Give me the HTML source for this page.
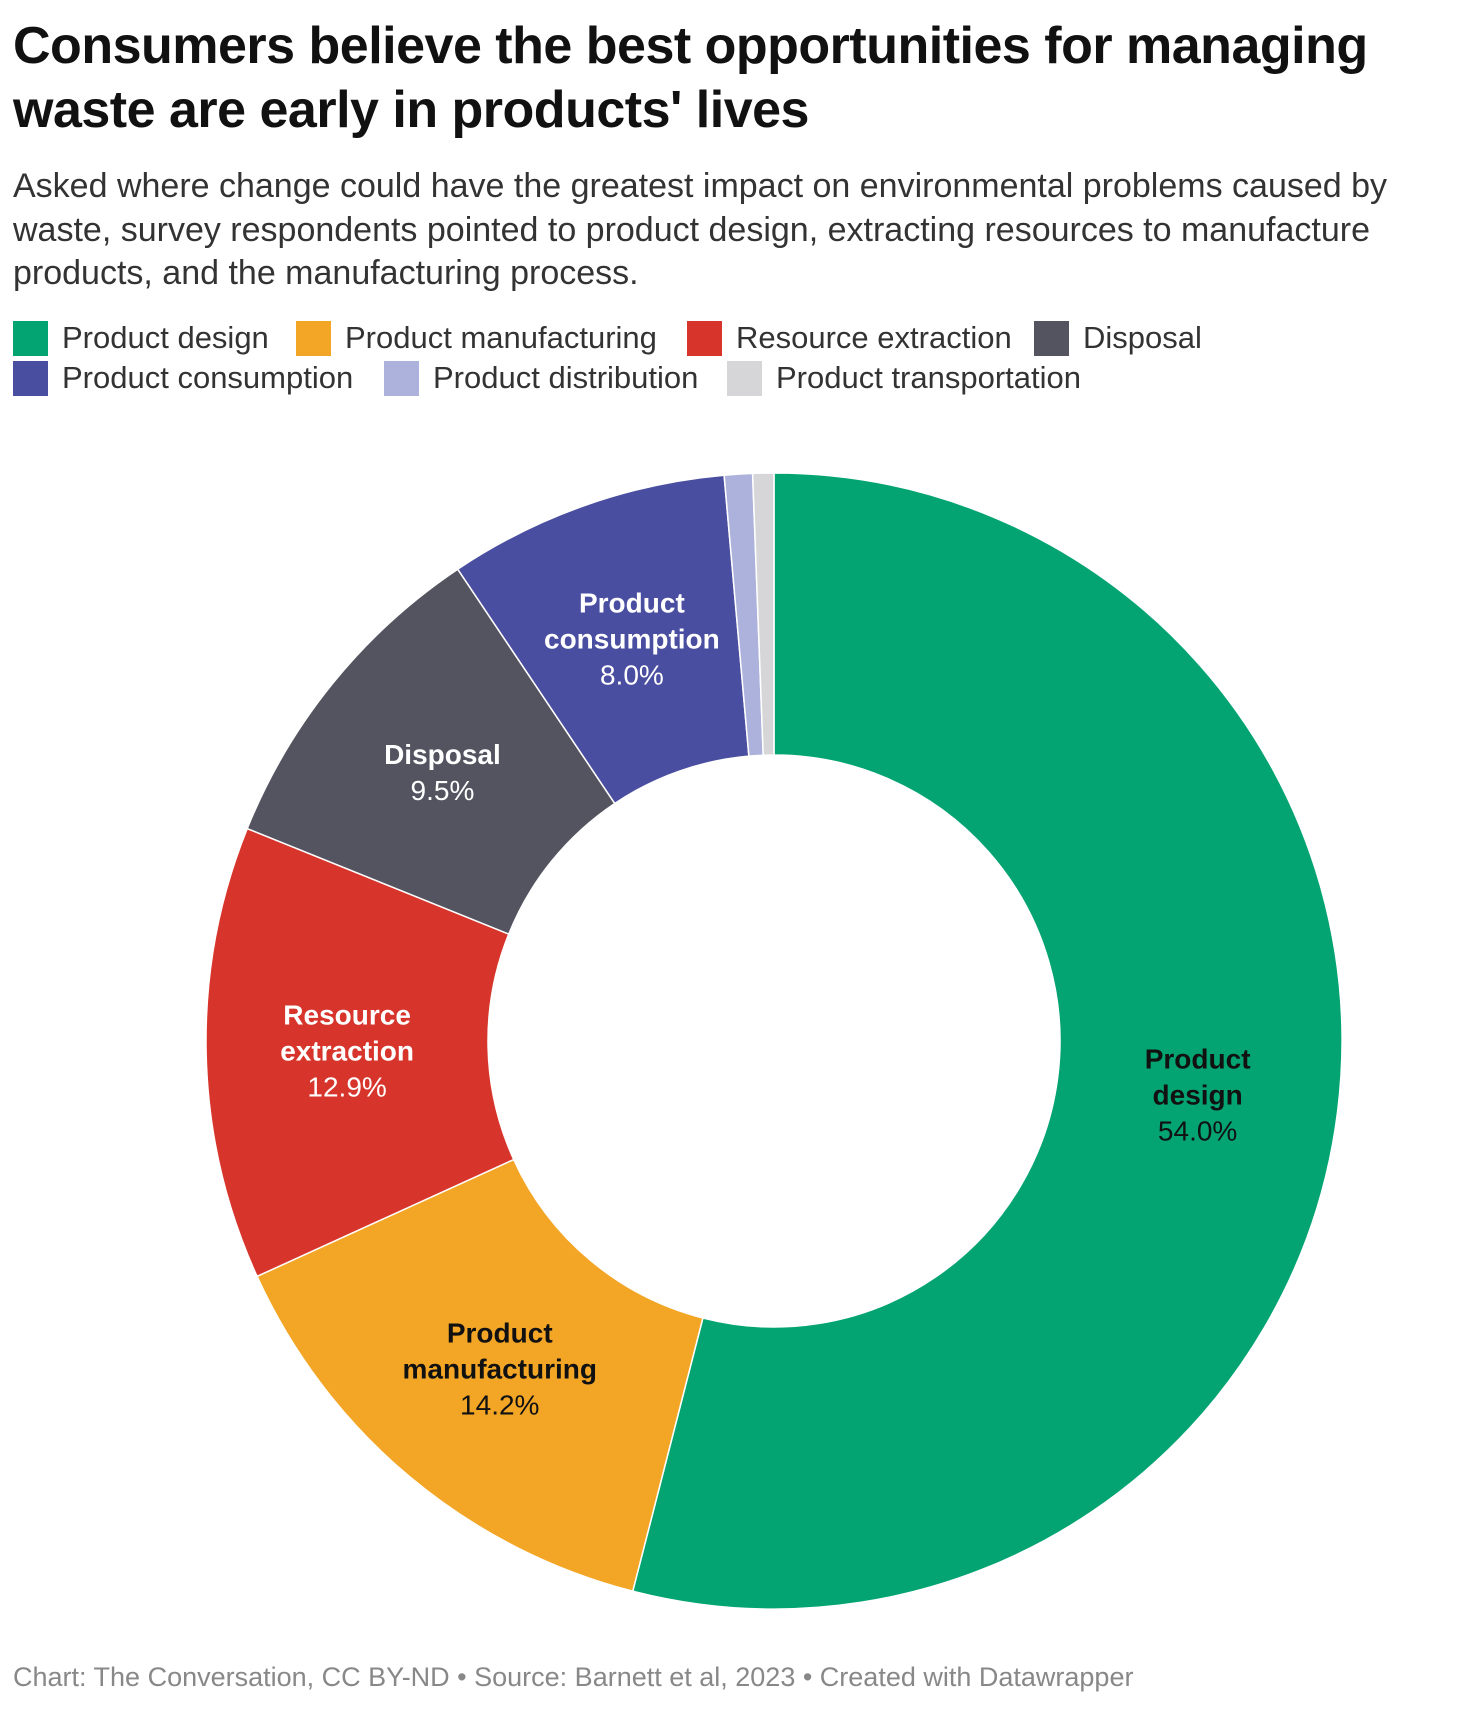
<!DOCTYPE html>
<html><head><meta charset="utf-8">
<style>
body{margin:0;background:#fff;width:1460px;height:1720px;overflow:hidden;font-family:"Liberation Sans",sans-serif;}
#title{position:absolute;left:13px;top:14px;font-size:52px;font-weight:bold;line-height:64px;color:#111;letter-spacing:-0.5px;margin:0;}
#sub{position:absolute;left:13px;top:165px;font-size:34px;line-height:43.5px;color:#333;width:1445px;margin:0;}
.leg{position:absolute;font-size:31px;color:#333;display:flex;align-items:center;}
.sw{width:35px;height:35px;margin-right:14px;display:inline-block;}
#foot{position:absolute;left:13px;top:1662px;font-size:27px;color:#888;}
</style></head><body>
<h1 id="title">Consumers believe the best opportunities for managing<br>waste are early in products' lives</h1>
<p id="sub">Asked where change could have the greatest impact on environmental problems caused by waste, survey respondents pointed to product design, extracting resources to manufacture products, and the manufacturing process.</p>
<div id="legend"></div>
<svg id="chart" width="1460" height="1720" style="position:absolute;left:0;top:0;pointer-events:none"></svg>
<div id="foot">Chart: The Conversation, CC BY-ND • Source: Barnett et al, 2023 • Created with Datawrapper</div>
<script>
const categories=["Product design","Product manufacturing","Resource extraction","Disposal","Product consumption","Product distribution","Product transportation"];
const values=[54.0,14.2,12.9,9.5,8.0,0.8,0.6];
const colors=["#04a472","#f3a626","#d7352b","#53545f","#4a4ea0","#adb2dc","#d6d6d8"];
const labelDark=[true,true,false,false,false,false,false];
const showLabel=[true,true,true,true,true,false,false];
const labelLines=[["Product","design"],["Product","manufacturing"],["Resource","extraction"],["Disposal"],["Product","consumption"],[],[]];

const legendPos=[[13,320],[296,320],[687,320],[1034,320],[13,360],[384,360],[727,360]];
const legend=document.getElementById('legend');
categories.forEach((c,i)=>{
  const d=document.createElement('div');
  d.className='leg';
  
  
  d.style.left=legendPos[i][0]+'px';d.style.top=legendPos[i][1]+'px';
  d.innerHTML='<span class="sw" style="background:'+colors[i]+'"></span>'+c;
  legend.appendChild(d);
});

const NS='http://www.w3.org/2000/svg';
const svg=document.getElementById('chart');
const cx=774,cy=1041,R=568,r=286;
const total=values.reduce((a,b)=>a+b,0);
function angle(v){return v/total*2*Math.PI;}
function pt(a,rad){return [cx+rad*Math.sin(a),cy-rad*Math.cos(a)];}
let acc=0;
values.forEach((v,i)=>{
  const a0=angle(acc),a1=angle(acc+v);acc+=v;
  const large=(a1-a0)>Math.PI?1:0;
  const p0=pt(a0,R),p1=pt(a1,R),q1=pt(a1,r),q0=pt(a0,r);
  const p=document.createElementNS(NS,'path');
  p.setAttribute('d',`M${p0[0]},${p0[1]}A${R},${R} 0 ${large} 1 ${p1[0]},${p1[1]}L${q1[0]},${q1[1]}A${r},${r} 0 ${large} 0 ${q0[0]},${q0[1]}Z`);
  p.setAttribute('fill',colors[i]);p.setAttribute('stroke','#fff');p.setAttribute('stroke-width','1.5');
  
  
  svg.appendChild(p);
  if(showLabel[i]){
    const m=pt((a0+a1)/2,(R+r)/2);
    const lines=labelLines[i].concat([v.toFixed(1)+'%']);
    const lh=36,y0=m[1]-(lines.length-1)*lh/2+10;
    const t=document.createElementNS(NS,'text');
    
    
    t.setAttribute('text-anchor','middle');t.setAttribute('font-size','28');
    t.setAttribute('fill',labelDark[i]?'#111':'#fff');
    t.setAttribute('font-family','Liberation Sans, sans-serif');
    lines.forEach((l,k)=>{
      const ts=document.createElementNS(NS,'tspan');
      ts.setAttribute('x',m[0]);ts.setAttribute('y',y0+k*lh);
      if(k<lines.length-1)ts.setAttribute('font-weight','bold');
      ts.textContent=l;t.appendChild(ts);
    });
    svg.appendChild(t);
  }
});
</script>
</body></html>
